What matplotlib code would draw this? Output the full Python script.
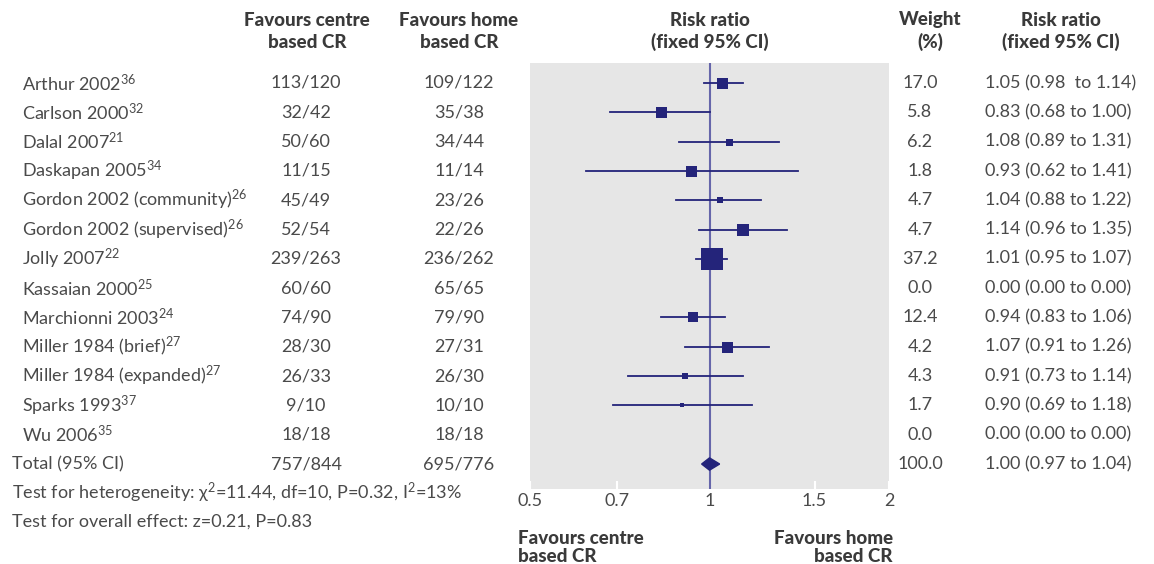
import numpy as np
import matplotlib
matplotlib.use("Agg")
import matplotlib.pyplot as plt
from matplotlib import transforms
from matplotlib.patches import Polygon

plt.rcParams['font.family'] = ['Lato', 'DejaVu Sans']
plt.rcParams['mathtext.fontset'] = 'custom'
plt.rcParams['mathtext.rm'] = 'Lato'
plt.rcParams['mathtext.it'] = 'Lato:italic'

# trial data
studies = ["Arthur 2002", "Carlson 2000", "Dalal 2007", "Daskapan 2005",
           "Gordon 2002 (community)", "Gordon 2002 (supervised)", "Jolly 2007",
           "Kassaian 2000", "Marchionni 2003", "Miller 1984 (brief)",
           "Miller 1984 (expanded)", "Sparks 1993", "Wu 2006"]
refs = ["36", "32", "21", "34", "26", "26", "22", "25", "24", "27", "27", "37", "35"]
centre = ["113/120", "32/42", "50/60", "11/15", "45/49", "52/54", "239/263",
          "60/60", "74/90", "28/30", "26/33", "9/10", "18/18"]
home = ["109/122", "35/38", "34/44", "11/14", "23/26", "22/26", "236/262",
        "65/65", "79/90", "27/31", "26/30", "10/10", "18/18"]
weight = [17.0, 5.8, 6.2, 1.8, 4.7, 4.7, 37.2, 0.0, 12.4, 4.2, 4.3, 1.7, 0.0]
rr = [1.05, 0.83, 1.08, 0.93, 1.04, 1.14, 1.01, 0.00, 0.94, 1.07, 0.91, 0.90, 0.00]
lo = [0.98, 0.68, 0.89, 0.62, 0.88, 0.96, 0.95, 0.00, 0.83, 0.91, 0.73, 0.69, 0.00]
hi = [1.14, 1.00, 1.31, 1.41, 1.22, 1.35, 1.07, 0.00, 1.06, 1.26, 1.14, 1.18, 0.00]
# the "1.05 (0.98  to 1.14)" row has a double space in print
ci_text = ["1.05 (0.98  to 1.14)"] + [None] * 12

total_centre = "757/844"
total_home = "695/776"
total_weight = 100.0
total_rr, total_lo, total_hi = 1.00, 0.97, 1.04

heterogeneity = "Test for heterogeneity: χ$^2$=11.44, df=10, P=0.32, I$^2$=13%"
overall = "Test for overall effect: z=0.21, P=0.83"
xticks = [0.5, 0.7, 1, 1.5, 2]
xticklabels = ["0.5", "0.7", "1", "1.5", "2"]

# box widths in pixels
box_px = [11, 11, 7, 11, 6, 12, 22, 0, 10, 11, 6, 5, 0]

W, H = 1154, 564
navy = "#24247a"
refline = "#6666aa"
txt = "#4a4a4a"
head = "#3a3a3a"
bg = "#e6e6e6"

fig = plt.figure(figsize=(W / 100, H / 100), dpi=100)
fig.patch.set_facecolor("white")

row0, row_h = 83, 29.31
ax_top, ax_bot, ax_l, ax_r = 63, 489, 530, 889
ax = fig.add_axes([ax_l / W, 1 - ax_bot / H, (ax_r - ax_l) / W, (ax_bot - ax_top) / H])
ax.set_xscale("log")
ax.set_xlim(0.5, 2)
ax.set_ylim((ax_bot - row0) / row_h, -(row0 - ax_top) / row_h)
ax.set_facecolor(bg)
for s in ax.spines.values():
    s.set_visible(False)
ax.set_xticks(xticks)
ax.set_xticklabels(xticklabels)
ax.xaxis.set_minor_locator(matplotlib.ticker.NullLocator())
ax.tick_params(axis="x", direction="in", length=6, width=1.5, color="white",
               labelsize=13, labelcolor=txt, pad=3)
ax.set_yticks([])

ax.axvline(1, color=refline, lw=1.5, zorder=2)

for i in range(len(studies)):
    if weight[i] == 0:
        continue
    ax.plot([lo[i], hi[i]], [i, i], color=navy, lw=1.3, zorder=3)
    ax.plot(rr[i], i, marker="s", ms=box_px[i] * 0.72, color=navy, mec=navy,
            mew=0, zorder=4)

n = len(studies)
dh = 0.21
ax.add_patch(Polygon([[total_lo, n], [total_rr, n - dh], [total_hi, n], [total_rr, n + dh]],
                     closed=True, color=navy, zorder=4))

tr = transforms.blended_transform_factory(fig.transFigure, ax.transData)

def fx(px):
    return px / W

fs = 13
for i in range(n):
    ax.text(fx(22), i, f"{studies[i]}$^{{{refs[i]}}}$", transform=tr, ha="left",
            va="center", fontsize=fs, color=txt)
    ax.text(fx(306), i, centre[i], transform=tr, ha="center", va="center", fontsize=fs, color=txt)
    ax.text(fx(459), i, home[i], transform=tr, ha="center", va="center", fontsize=fs, color=txt)
    ax.text(fx(920), i, f"{weight[i]:.1f}", transform=tr, ha="center", va="center",
            fontsize=fs, color=txt)
    label = ci_text[i] or f"{rr[i]:.2f} ({lo[i]:.2f} to {hi[i]:.2f})"
    ax.text(fx(985), i, label, transform=tr, ha="left", va="center", fontsize=fs, color=txt)

ax.text(fx(12), n, "Total (95% CI)", transform=tr, ha="left", va="center", fontsize=fs, color=txt)
ax.text(fx(306), n, total_centre, transform=tr, ha="center", va="center", fontsize=fs, color=txt)
ax.text(fx(459), n, total_home, transform=tr, ha="center", va="center", fontsize=fs, color=txt)
ax.text(fx(920), n, f"{total_weight:.1f}", transform=tr, ha="center", va="center",
        fontsize=fs, color=txt)
ax.text(fx(985), n, f"{total_rr:.2f} ({total_lo:.2f} to {total_hi:.2f})", transform=tr,
        ha="left", va="center", fontsize=fs, color=txt)
ax.text(fx(12), n + 1.0, heterogeneity, transform=tr, ha="left", va="center",
        fontsize=fs, color=txt)
ax.text(fx(12), n + 1.98, overall, transform=tr, ha="left", va="center", fontsize=fs, color=txt)

# column headers
hfs = 13.5
def header(x, lines, ha="center", y0=20, step=22):
    for k, s in enumerate(lines):
        fig.text(fx(x), 1 - (y0 + k * step) / H, s, ha=ha, va="center", fontsize=hfs,
                 fontweight="black", color=head)

header(307, ["Favours centre", "based CR"])
header(459, ["Favours home", "based CR"])
header(710, ["Risk ratio", "(fixed 95% CI)"])
header(930, ["Weight", "(%)"])
header(1061, ["Risk ratio", "(fixed 95% CI)"])
header(518, ["Favours centre", "based CR"], ha="left", y0=538, step=18)
header(893, ["Favours home", "based CR"], ha="right", y0=538, step=18)

fig.savefig("out.png", dpi=100)
